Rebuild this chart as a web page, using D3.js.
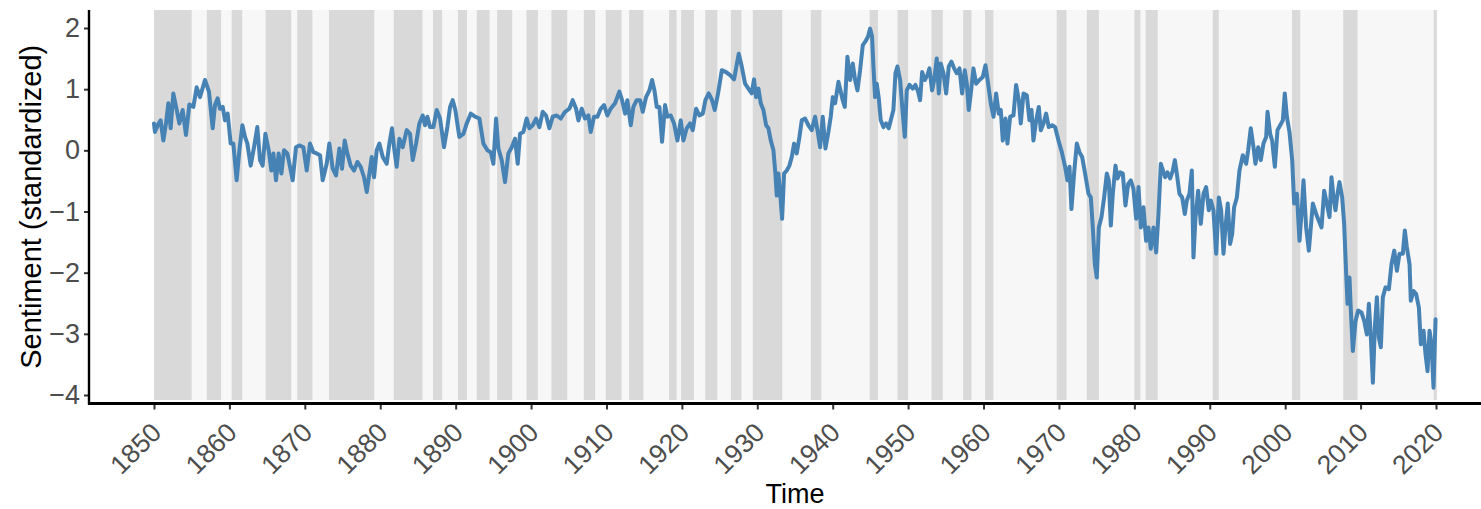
<!DOCTYPE html>
<html>
<head>
<meta charset="utf-8">
<script src="https://cdn.jsdelivr.net/npm/d3@7"></script>
<style>
    html, body { margin: 0; padding: 0; background: #fff; }
    #chart svg { display: block; }
    .axis text { font-family: "Liberation Sans", Arial, sans-serif; fill: #4d4d4d; }
    .axis-title { font-family: "Liberation Sans", Arial, sans-serif; fill: #000; }
</style>
</head>
<body>
<div id="chart"></div>
<script>
// sentiment series (year, standardized value)
var years = [
    1850.00, 1850.13, 1850.57, 1850.88, 1851.24, 1851.59, 1851.90, 1852.21, 1852.56, 1853.01,
    1853.36, 1853.80, 1854.24, 1854.69, 1855.22, 1855.66, 1856.10, 1856.76, 1857.29, 1857.78,
    1858.09, 1858.44, 1858.75, 1859.11, 1859.42, 1859.77, 1860.17, 1860.52, 1860.96, 1861.32,
    1861.72, 1862.07, 1862.38, 1862.82, 1863.26, 1863.70, 1864.06, 1864.41, 1864.77, 1865.21,
    1865.56, 1865.83, 1866.18, 1866.53, 1866.89, 1867.24, 1867.68, 1868.04, 1868.39, 1868.83,
    1869.27, 1869.81, 1870.25, 1870.69, 1871.13, 1871.57, 1872.02, 1872.37, 1872.90, 1873.25,
    1873.70, 1874.14, 1874.58, 1874.93, 1875.29, 1875.64, 1876.08, 1876.53, 1876.97, 1877.41,
    1877.85, 1878.21, 1878.56, 1878.87, 1879.18, 1879.53, 1879.89, 1880.33, 1880.86, 1881.21,
    1881.56, 1881.83, 1882.18, 1882.54, 1882.98, 1883.51, 1883.95, 1884.31, 1884.75, 1885.19,
    1885.63, 1885.94, 1886.25, 1886.60, 1887.05, 1887.49, 1887.93, 1888.46, 1888.90, 1889.26,
    1889.61, 1889.96, 1890.49, 1891.03, 1891.47, 1892.00, 1892.57, 1893.15, 1893.68, 1894.21,
    1894.65, 1895.00, 1895.36, 1895.67, 1896.11, 1896.55, 1896.99, 1897.44, 1897.88, 1898.23,
    1898.54, 1898.98, 1899.42, 1899.78, 1900.22, 1900.66, 1901.10, 1901.55, 1901.99, 1902.43,
    1902.87, 1903.40, 1903.93, 1904.51, 1905.08, 1905.52, 1905.97, 1906.28, 1906.72, 1907.16,
    1907.60, 1907.91, 1908.35, 1908.80, 1909.24, 1909.68, 1910.12, 1910.56, 1911.14, 1911.71,
    1912.07, 1912.47, 1912.77, 1913.22, 1913.57, 1914.01, 1914.46, 1914.81, 1915.25, 1915.69,
    1916.05, 1916.36, 1916.67, 1917.02, 1917.37, 1917.77, 1918.08, 1918.52, 1918.96, 1919.41,
    1919.85, 1920.20, 1920.64, 1921.09, 1921.44, 1921.88, 1922.32, 1922.77, 1923.12, 1923.56,
    1924.00, 1924.36, 1924.80, 1925.29, 1925.86, 1926.39, 1926.92, 1927.54, 1927.94, 1928.38,
    1928.82, 1929.26, 1929.57, 1929.84, 1930.15, 1930.46, 1930.81, 1931.17, 1931.48, 1931.79,
    1932.14, 1932.40, 1932.58, 1932.80, 1933.07, 1933.29, 1933.55, 1933.91, 1934.26, 1934.57,
    1934.88, 1935.23, 1935.59, 1935.90, 1936.34, 1936.78, 1937.22, 1937.66, 1938.02, 1938.33,
    1938.68, 1939.04, 1939.43, 1939.74, 1940.01, 1940.32, 1940.76, 1941.33, 1941.60, 1941.95,
    1942.31, 1942.66, 1942.97, 1943.28, 1943.63, 1943.99, 1944.34, 1944.69, 1944.96, 1945.22,
    1945.40, 1945.62, 1945.84, 1946.11, 1946.37, 1946.73, 1947.08, 1947.43, 1947.70, 1948.05,
    1948.32, 1948.58, 1948.94, 1949.29, 1949.56, 1949.82, 1950.18, 1950.62, 1950.97, 1951.32,
    1951.59, 1951.86, 1952.21, 1952.56, 1952.83, 1953.18, 1953.45, 1953.80, 1954.07, 1954.33,
    1954.69, 1955.04, 1955.39, 1955.75, 1956.10, 1956.45, 1956.81, 1957.16, 1957.51, 1957.78,
    1958.04, 1958.31, 1958.66, 1959.02, 1959.46, 1959.90, 1960.26, 1960.61, 1960.96, 1961.32,
    1961.67, 1962.02, 1962.29, 1962.55, 1962.91, 1963.17, 1963.53, 1963.97, 1964.32, 1964.68,
    1964.94, 1965.30, 1965.74, 1966.09, 1966.36, 1966.62, 1966.98, 1967.33, 1967.59, 1967.95,
    1968.30, 1968.65, 1969.10, 1969.49, 1969.94, 1970.38, 1970.82, 1971.13, 1971.40, 1971.66,
    1972.02, 1972.37, 1972.72, 1973.08, 1973.47, 1973.92, 1974.23, 1974.49, 1974.76, 1975.02,
    1975.29, 1975.64, 1975.99, 1976.35, 1976.61, 1976.88, 1977.14, 1977.50, 1977.76, 1978.12,
    1978.47, 1978.82, 1979.18, 1979.53, 1979.88, 1980.24, 1980.55, 1980.86, 1981.21, 1981.56,
    1981.87, 1982.18, 1982.54, 1982.89, 1983.20, 1983.51, 1984.08, 1984.39, 1984.75, 1985.10,
    1985.37, 1985.63, 1985.98, 1986.34, 1986.69, 1986.96, 1987.31, 1987.62, 1987.84, 1988.11,
    1988.46, 1988.81, 1989.17, 1989.52, 1989.87, 1990.14, 1990.49, 1990.85, 1991.20, 1991.51,
    1991.82, 1992.08, 1992.39, 1992.70, 1992.97, 1993.23, 1993.59, 1993.94, 1994.38, 1994.83,
    1995.09, 1995.44, 1995.80, 1996.06, 1996.42, 1996.77, 1997.12, 1997.48, 1997.66, 1998.01,
    1998.27, 1998.63, 1998.98, 1999.34, 1999.69, 1999.95, 2000.22, 2000.57, 2000.93, 2001.19,
    2001.55, 2001.90, 2002.16, 2002.43, 2002.78, 2003.14, 2003.40, 2003.67, 2004.11, 2004.46,
    2004.82, 2005.17, 2005.52, 2005.88, 2006.14, 2006.41, 2006.67, 2006.94, 2007.20, 2007.56,
    2007.82, 2008.09, 2008.27, 2008.53, 2008.71, 2008.97, 2009.33, 2009.68, 2010.12, 2010.48,
    2010.83, 2011.10, 2011.36, 2011.63, 2011.89, 2012.16, 2012.42, 2012.69, 2012.95, 2013.31,
    2013.75, 2014.10, 2014.46, 2014.81, 2015.16, 2015.60, 2015.87, 2016.13, 2016.49, 2016.66,
    2017.02, 2017.37, 2017.73, 2017.99, 2018.35, 2018.61, 2018.88, 2019.14, 2019.41, 2019.67,
    2019.94
];

var sentiment = [
    0.44, 0.30, 0.43, 0.49, 0.16, 0.44, 0.77, 0.36, 0.93, 0.66,
    0.44, 0.66, 0.25, 0.75, 0.71, 1.03, 0.87, 1.15, 0.96, 0.36,
    0.74, 0.85, 0.68, 0.71, 0.49, 0.60, 0.11, 0.11, -0.49, 0.00,
    0.41, 0.22, 0.11, -0.25, 0.05, 0.38, -0.16, -0.25, 0.27, 0.00,
    -0.33, -0.05, -0.49, -0.05, -0.38, 0.00, -0.05, -0.27, -0.49, 0.05,
    0.08, 0.05, -0.33, 0.11, -0.03, -0.05, -0.08, -0.49, -0.22, 0.11,
    -0.30, -0.41, 0.03, -0.30, 0.16, -0.05, -0.25, -0.33, -0.19, -0.27,
    -0.44, -0.68, -0.38, -0.11, -0.44, 0.00, 0.11, -0.11, -0.22, 0.11,
    0.36, 0.05, -0.27, 0.19, 0.05, 0.33, 0.27, -0.16, 0.11, 0.44,
    0.57, 0.41, 0.55, 0.38, 0.38, 0.66, 0.52, 0.05, 0.38, 0.71,
    0.82, 0.66, 0.22, 0.27, 0.44, 0.60, 0.55, 0.52, 0.11, 0.00,
    -0.03, -0.22, 0.52, 0.03, -0.16, -0.52, -0.05, 0.05, 0.19, -0.22,
    0.27, 0.30, 0.52, 0.36, 0.41, 0.52, 0.38, 0.63, 0.57, 0.36,
    0.55, 0.57, 0.52, 0.63, 0.68, 0.82, 0.68, 0.49, 0.68, 0.52,
    0.57, 0.30, 0.55, 0.55, 0.68, 0.74, 0.57, 0.68, 0.77, 0.96,
    0.82, 0.60, 0.82, 0.41, 0.71, 0.82, 0.82, 0.63, 0.87, 0.98,
    1.15, 0.98, 0.71, 0.71, 0.14, 0.74, 0.55, 0.57, 0.44, 0.16,
    0.49, 0.16, 0.36, 0.44, 0.33, 0.68, 0.57, 0.60, 0.82, 0.93,
    0.82, 0.66, 0.93, 1.31, 1.28, 1.23, 1.16, 1.58, 1.37, 1.09,
    1.01, 0.93, 1.16, 0.87, 1.01, 0.77, 0.66, 0.41, 0.36, 0.16,
    0.00, -0.38, -0.74, -0.38, -0.77, -1.12, -0.38, -0.33, -0.25, -0.11,
    0.11, -0.05, 0.22, 0.49, 0.52, 0.41, 0.33, 0.55, 0.30, 0.05,
    0.55, 0.03, 0.30, 0.55, 0.87, 0.77, 1.12, 0.82, 0.71, 1.53,
    1.15, 1.42, 1.15, 0.98, 1.31, 1.72, 1.78, 1.86, 1.99, 1.86,
    1.37, 0.87, 1.09, 0.85, 0.49, 0.38, 0.44, 0.36, 0.49, 0.66,
    1.26, 1.37, 1.15, 0.60, 0.22, 0.98, 1.07, 1.01, 1.07, 0.96,
    0.82, 1.28, 1.15, 1.23, 1.34, 0.98, 1.15, 1.50, 0.93, 1.42,
    1.26, 0.93, 1.37, 1.45, 1.34, 1.26, 1.34, 0.93, 1.31, 1.09,
    0.66, 0.93, 1.34, 1.09, 1.15, 1.20, 1.39, 1.09, 0.77, 0.55,
    0.93, 0.60, 0.66, 0.16, 0.52, 0.11, 0.55, 0.57, 1.07, 0.82,
    0.44, 0.93, 0.90, 0.49, 0.66, 0.16, 0.49, 0.71, 0.33, 0.44,
    0.60, 0.38, 0.41, 0.38, 0.16, -0.03, -0.27, -0.49, -0.27, -0.96,
    -0.36, 0.11, -0.03, -0.11, -0.38, -0.71, -0.77, -1.26, -1.86, -2.08,
    -1.26, -1.09, -0.77, -0.38, -0.49, -1.23, -0.71, -0.25, -0.46, -0.36,
    -0.38, -0.90, -0.55, -0.49, -0.63, -1.12, -0.60, -1.26, -0.93, -1.48,
    -1.26, -1.61, -1.26, -1.67, -1.04, -0.22, -0.44, -0.36, -0.46, -0.33,
    -0.16, -0.38, -0.71, -0.77, -1.04, -0.82, -0.71, -0.33, -1.75, -1.09,
    -0.66, -1.20, -0.71, -0.60, -0.98, -0.82, -0.98, -1.69, -0.77, -0.98,
    -1.69, -1.26, -0.87, -1.53, -1.37, -0.93, -0.77, -0.33, -0.08, -0.22,
    0.00, 0.36, 0.05, -0.22, 0.05, -0.16, 0.11, 0.22, 0.63, 0.27,
    0.16, -0.27, 0.33, 0.41, 0.49, 0.93, 0.55, 0.30, -0.16, -0.87,
    -0.71, -1.48, -1.04, -0.49, -1.26, -1.64, -1.26, -0.87, -1.04, -1.15,
    -1.26, -0.66, -0.87, -1.09, -0.44, -0.77, -0.98, -0.71, -0.52, -0.77,
    -1.20, -2.02, -2.51, -2.08, -2.62, -3.28, -2.79, -2.62, -2.65, -2.79,
    -3.01, -2.51, -3.06, -3.80, -2.90, -2.40, -3.06, -3.22, -2.40, -2.24,
    -2.27, -1.86, -1.64, -1.97, -1.69, -1.69, -1.31, -1.58, -1.86, -2.46,
    -2.30, -2.35, -2.57, -3.17, -2.95, -3.33, -3.61, -2.95, -3.17, -3.88,
    -2.76
];

// shaded (recession) periods
var bandStarts = [1850.0, 1857.0, 1860.3, 1864.8, 1869.0, 1873.2, 1881.8, 1887.0, 1890.3, 1892.8,
    1895.5, 1899.4, 1902.7, 1907.0, 1909.9, 1913.0, 1918.3, 1919.9, 1923.1, 1926.5,
    1929.4, 1937.1, 1944.9, 1948.6, 1953.1, 1957.3, 1960.2, 1969.7, 1973.7, 1980.0,
    1981.5, 1990.4, 2000.9, 2007.7, 2019.7];
var bandEnds = [1855.0, 1858.9, 1861.7, 1868.2, 1871.0, 1879.2, 1885.6, 1888.2, 1891.5, 1894.5,
    1897.5, 1900.9, 1904.8, 1908.5, 1912.0, 1914.9, 1919.3, 1921.6, 1924.7, 1927.9,
    1933.3, 1938.5, 1946.0, 1950.0, 1954.6, 1958.4, 1961.3, 1971.0, 1975.3, 1980.8,
    1983.1, 1991.2, 2002.0, 2009.6, 2020.1];
var periodRange = [1850.0, 2020.2];

var xTicks = [1850, 1860, 1870, 1880, 1890, 1900, 1910, 1920, 1930, 1940,
    1950, 1960, 1970, 1980, 1990, 2000, 2010, 2020];
var yTicks = [-4, -3, -2, -1, 0, 1, 2];

var drawChart = function () {
    var totalWidth = 1481, totalHeight = 509;
    var panel = { left: 89, top: 10, bottom: 403.5 };

    var data = years.map(function (d, i) { return { year: d, value: sentiment[i] }; });
    var bands = bandStarts.map(function (d, i) { return { start: d, end: bandEnds[i] }; });

    var xScale = d3.scaleLinear()
        .domain([1850, 2020])
        .range([154, 1436]);

    var yScale = d3.scaleLinear()
        .domain([-4, 2])
        .range([395, 28]);

    var svg = d3.select('#chart')
        .append('svg')
        .attr('width', totalWidth)
        .attr('height', totalHeight);

    // light background over the whole period
    svg.append('rect')
        .attr('x', xScale(periodRange[0]))
        .attr('width', xScale(periodRange[1]) - xScale(periodRange[0]))
        .attr('y', panel.top)
        .attr('height', 400 - panel.top)
        .attr('fill', '#f7f7f7');

    svg.selectAll('.band')
        .data(bands)
        .enter()
        .append('rect')
        .attr('class', 'band')
        .attr('x', function (d) { return xScale(d.start); })
        .attr('width', function (d) { return xScale(d.end) - xScale(d.start); })
        .attr('y', panel.top)
        .attr('height', 400 - panel.top)
        .attr('fill', '#d9d9d9');

    var line = d3.line()
        .x(function (d) { return xScale(d.year); })
        .y(function (d) { return yScale(d.value); });

    svg.append('path')
        .datum(data)
        .attr('d', line)
        .attr('fill', 'none')
        .attr('stroke', '#4682b4')
        .attr('stroke-width', 4)
        .attr('stroke-linejoin', 'round')
        .attr('stroke-linecap', 'round');

    // axes
    var xAxis = d3.axisBottom(xScale)
        .tickValues(xTicks)
        .tickFormat(d3.format('d'))
        .tickSize(6)
        .tickSizeOuter(0);

    var yAxis = d3.axisLeft(yScale)
        .tickValues(yTicks)
        .tickFormat(d3.format('d'))
        .tickSize(5)
        .tickPadding(4)
        .tickSizeOuter(0);

    var gx = svg.append('g')
        .attr('class', 'x axis')
        .attr('transform', 'translate(0,' + panel.bottom + ')')
        .call(xAxis);
    gx.select('.domain').remove();
    gx.selectAll('.tick line').attr('stroke', '#333').attr('stroke-width', 2);
    gx.selectAll('text')
        .attr('x', 0)
        .attr('y', 0)
        .attr('dy', '0.72em')
        .style('font-size', '26.5px')
        .style('text-anchor', 'end')
        .attr('transform', 'translate(-5,17) rotate(-45)');

    var gy = svg.append('g')
        .attr('class', 'y axis')
        .attr('transform', 'translate(' + panel.left + ',0)')
        .call(yAxis);
    gy.select('.domain').remove();
    gy.selectAll('.tick line').attr('stroke', '#333').attr('stroke-width', 2);
    gy.selectAll('text').style('font-size', '27px');

    // axis lines
    svg.append('line')
        .attr('x1', panel.left).attr('x2', panel.left)
        .attr('y1', panel.top).attr('y2', panel.bottom + 1)
        .attr('stroke', '#000').attr('stroke-width', 2.4);
    svg.append('line')
        .attr('x1', panel.left - 1).attr('x2', totalWidth)
        .attr('y1', panel.bottom).attr('y2', panel.bottom)
        .attr('stroke', '#000').attr('stroke-width', 3);

    svg.append('text')
        .attr('class', 'axis-title')
        .attr('transform', 'translate(41,' + ((panel.top + panel.bottom) / 2) + ') rotate(-90)')
        .style('text-anchor', 'middle')
        .style('font-size', '29px')
        .text('Sentiment (standardized)');

    svg.append('text')
        .attr('class', 'axis-title')
        .attr('x', 795)
        .attr('y', 503)
        .style('text-anchor', 'middle')
        .style('font-size', '27px')
        .text('Time');
};

drawChart();
</script>
</body>
</html>
